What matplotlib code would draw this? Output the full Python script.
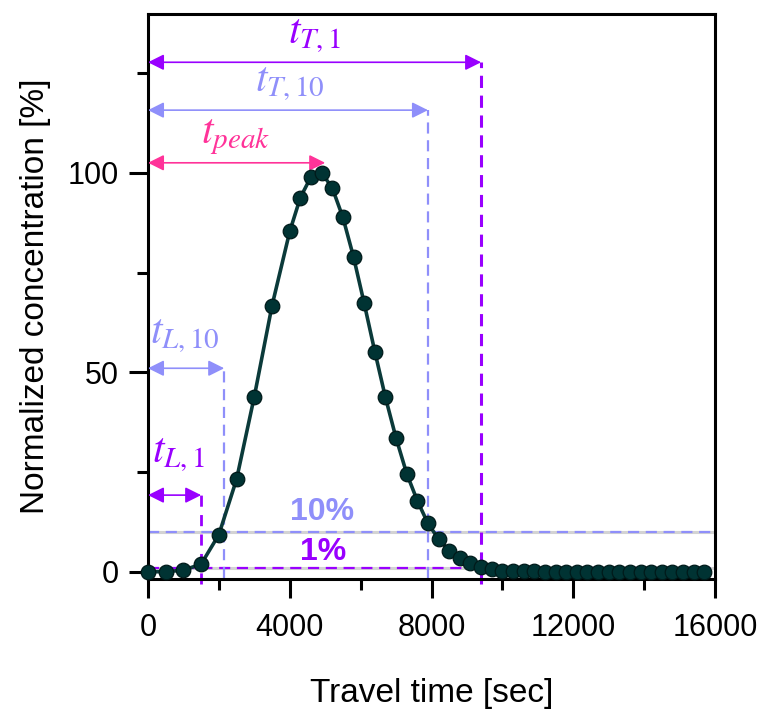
import matplotlib
matplotlib.use("Agg")
import matplotlib.pyplot as plt
from matplotlib.ticker import MultipleLocator

plt.rcParams['font.family'] = ['Liberation Sans', 'DejaVu Sans']
plt.rcParams['mathtext.fontset'] = 'stix'

# tracer breakthrough curve
travel_time = [0, 500, 1000, 1500, 2000, 2500, 3000, 3500, 4000,
               4300, 4600, 4900, 5200, 5500, 5800, 6100, 6400, 6700, 7000,
               7300, 7600, 7900, 8200, 8500, 8800, 9100, 9400, 9700, 10000,
               10300, 10600, 10900, 11200, 11500, 11800, 12100, 12400, 12700,
               13000, 13300, 13600, 13900, 14200, 14500, 14800, 15100, 15400,
               15700]
concentration = [0.0, 0.0, 0.4, 1.9, 9.3, 23.2, 43.9, 66.7, 85.3,
                 93.8, 99.0, 100.0, 96.2, 88.8, 78.9, 67.3, 55.2, 43.7, 33.5,
                 24.6, 17.8, 12.1, 8.2, 5.3, 3.4, 2.3, 1.2, 0.6, 0.3,
                 0.15, 0.1, 0.1, 0.05, 0.05, 0.0, 0.0, 0.0, 0.0,
                 0.0, 0.0, 0.0, 0.0, 0.0, 0.0, 0.0, 0.0, 0.0,
                 0.0]

# characteristic times [sec] and the heights of their arrows [%]
t_L1, t_L10, t_peak, t_T10, t_T1 = 1500, 2150, 5000, 7900, 9400
arrow_y = {'L1': 19.2, 'L10': 51, 'peak': 102.5, 'T10': 115.7, 'T1': 127.7}
thresholds = [10, 1]

purple = '#9900FF'
lblue = '#8F8FFA'
pink = '#FF3399'
dark = '#003333'

fig = plt.figure(figsize=(7.64, 7.15), dpi=100)
ax = fig.add_axes([148/764, 1-578.5/715, (715-148)/764, (578.5-14)/715])

ax.set_xlim(0, 16000)
ax.set_ylim(-1.7, 139.8)

# threshold lines (grey under dashed)
for y, c in zip(thresholds, [lblue, purple]):
    ax.plot([0, 16000], [y, y], color='#D3D3D3', lw=2.2, zorder=1)
    ax.plot([0, 16000], [y, y], color=c, lw=1.6, dashes=(5, 3), zorder=2)

# vertical dashed markers
ax.plot([t_L1, t_L1], [-3, arrow_y['L1']], color=purple, lw=2.0, dashes=(4, 3), clip_on=False, zorder=2)
ax.plot([t_L10, t_L10], [-1.5, arrow_y['L10']], color=lblue, lw=1.6, dashes=(5, 3), clip_on=False, zorder=2)
ax.plot([t_T10, t_T10], [-1.5, arrow_y['T10']], color=lblue, lw=1.6, dashes=(5, 3), clip_on=False, zorder=2)
ax.plot([t_T1, t_T1], [-3, arrow_y['T1']], color=purple, lw=2.2, dashes=(4, 2.5), clip_on=False, zorder=2)

# double arrows
def darrow(x1, y, c):
    ax.annotate('', xy=(x1, y), xytext=(0, y),
                arrowprops=dict(arrowstyle='<|-|>', color=c, lw=1.2,
                                mutation_scale=24, shrinkA=0, shrinkB=0),
                zorder=3)

darrow(t_L1, arrow_y['L1'], purple)
darrow(t_L10, arrow_y['L10'], lblue)
darrow(t_peak, arrow_y['peak'], pink)
darrow(t_T10, arrow_y['T10'], lblue)
darrow(t_T1, arrow_y['T1'], purple)

fs_t = 30
ax.text(4700, 129.5, r'$t_{T,1}$', color=purple, fontsize=fs_t, ha='center', va='bottom')
ax.text(4000, 117.5, r'$t_{T,10}$', color=lblue, fontsize=fs_t, ha='center', va='bottom')
ax.text(2480, 104, r'$t_{peak}$', color=pink, fontsize=fs_t, ha='center', va='bottom')
ax.text(1045, 54.3, r'$t_{L,10}$', color=lblue, fontsize=fs_t, ha='center', va='bottom')
ax.text(870, 24.6, r'$t_{L,1}$', color=purple, fontsize=fs_t, ha='center', va='bottom')

ax.text(4920, 13, '10%', color=lblue, fontsize=23, fontweight='bold', ha='center', va='baseline')
ax.text(4940, 2.9, '1%', color=purple, fontsize=23, fontweight='bold', ha='center', va='baseline')

# data
ax.plot(travel_time, concentration, color='#0B3A3A', lw=2.6, marker='o',
        markersize=10.5, markerfacecolor=dark, markeredgecolor='#001A1A',
        markeredgewidth=0.9, zorder=4, clip_on=False)

ax.xaxis.set_major_locator(MultipleLocator(4000))
ax.xaxis.set_minor_locator(MultipleLocator(2000))
ax.yaxis.set_major_locator(MultipleLocator(50))
ax.yaxis.set_minor_locator(MultipleLocator(25))

for s in ax.spines.values():
    s.set_linewidth(2.2)
ax.tick_params(which='major', direction='out', length=14, width=2.2, labelsize=22)
ax.tick_params(which='minor', direction='out', length=8, width=2.2)
ax.tick_params(axis='x', which='major', pad=11)
ax.tick_params(axis='y', which='major', pad=7)

ax.set_xlabel('Travel time [sec]', fontsize=24, labelpad=25)
ax.set_ylabel('Normalized concentration [%]', fontsize=24, labelpad=12)

fig.savefig('out.png', dpi=100)
